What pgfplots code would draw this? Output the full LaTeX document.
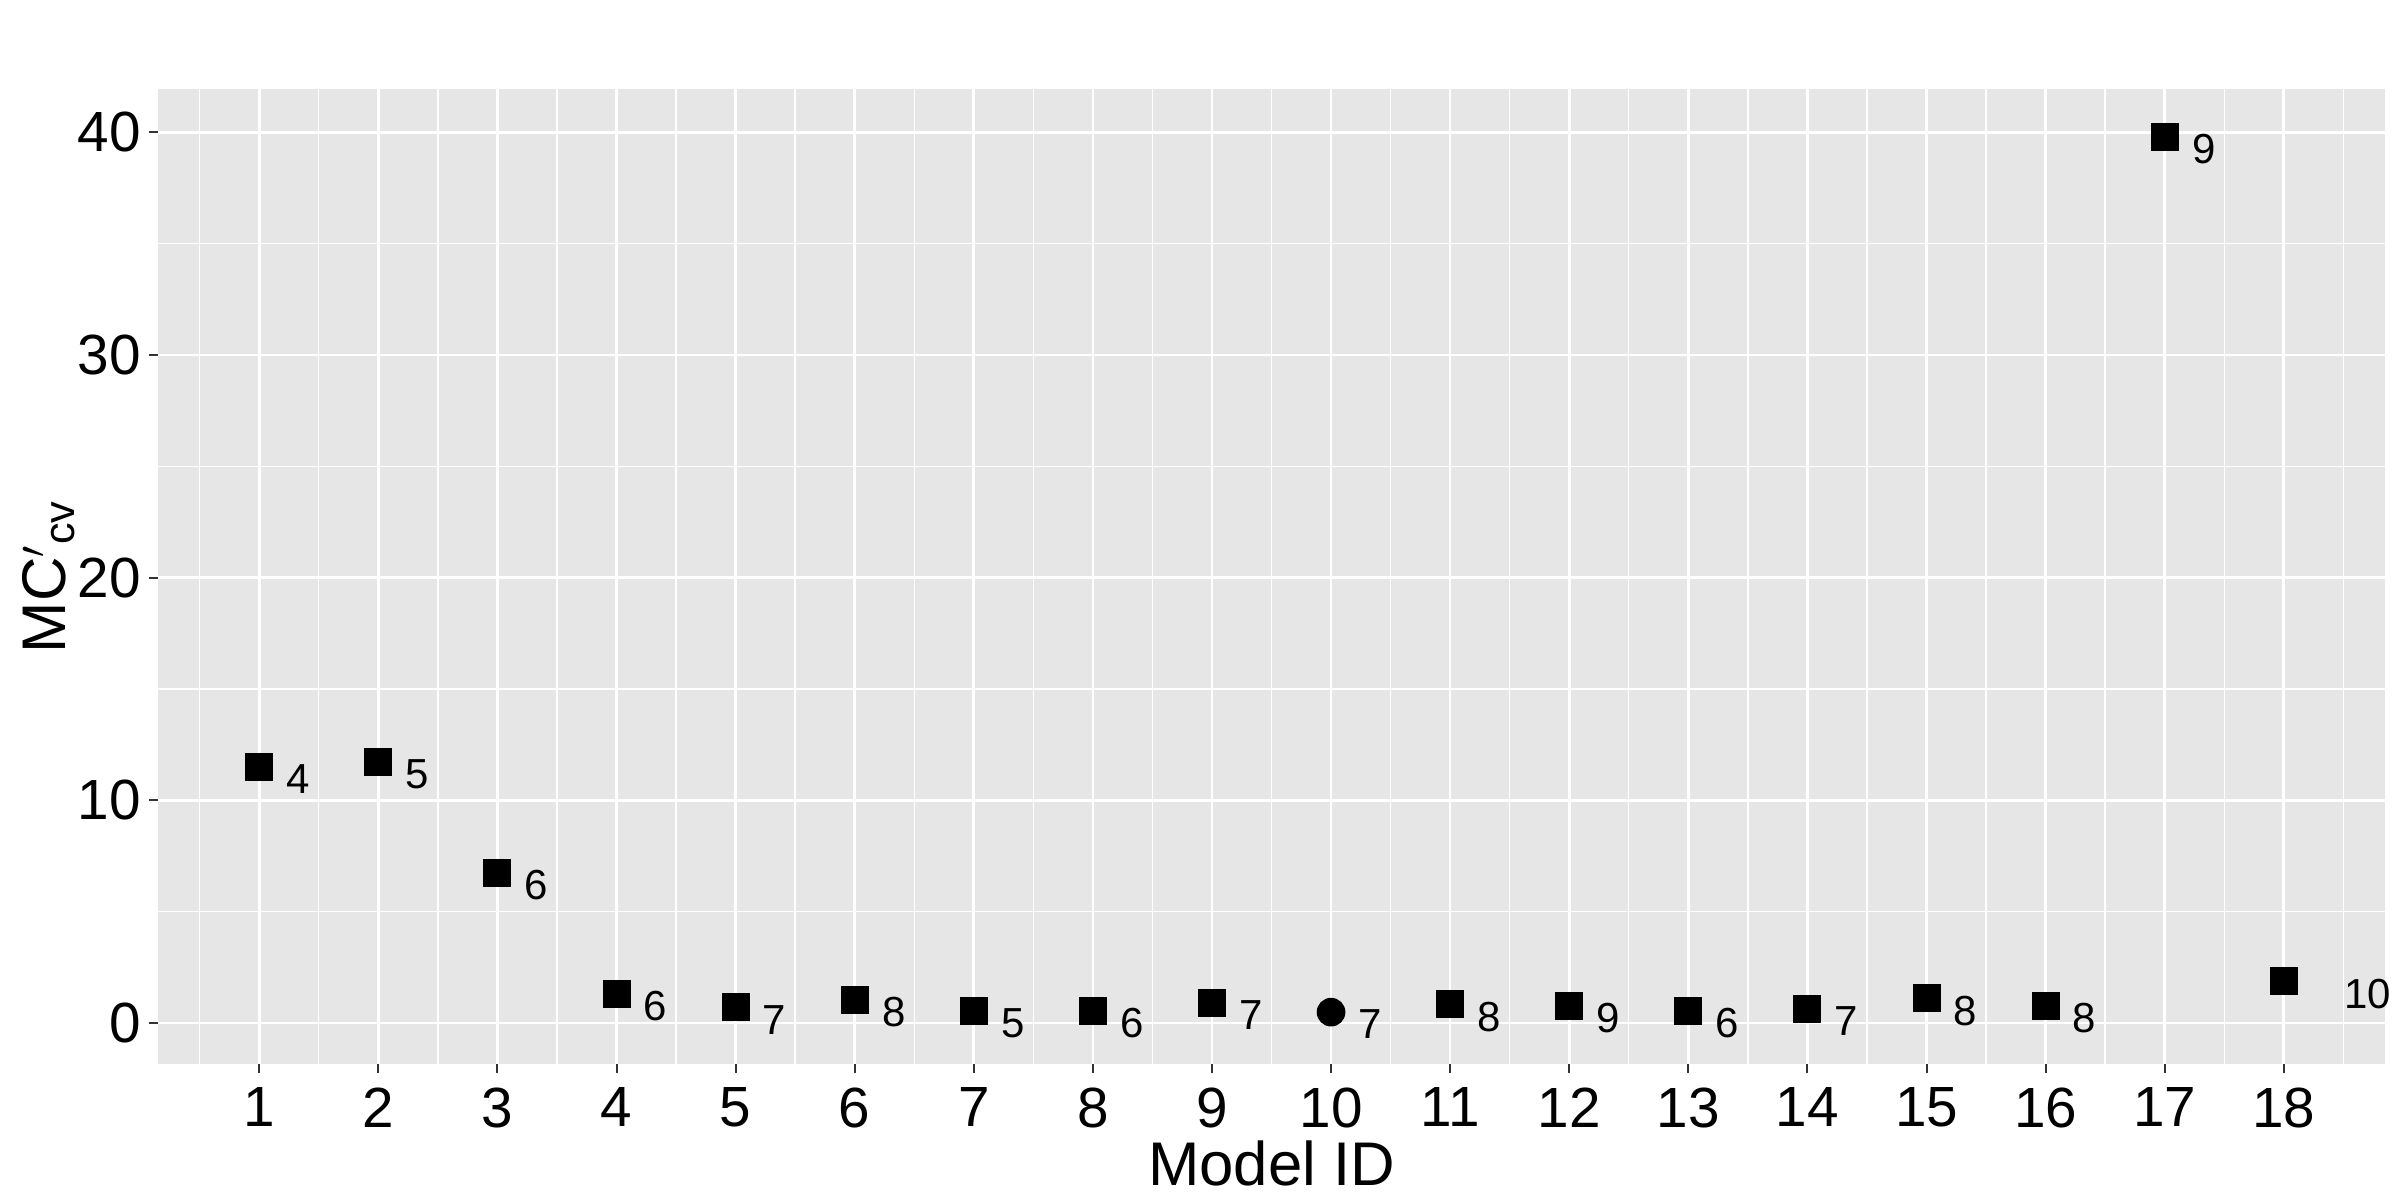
\documentclass[border=0pt]{standalone}
\usepackage{pgfplots}
\pgfplotsset{compat=1.18}
\usepackage{fontspec}
\setmainfont{Liberation Sans}
\definecolor{panelbg}{HTML}{E6E6E6}
\begin{document}
\begin{tikzpicture}
\path[use as bounding box] (-47.4pt,-40.8pt) rectangle (672.6pt,319.2pt);
\begin{axis}[
  at={(0,0)}, anchor=south west,
  scale only axis, width=668.1pt, height=292.5pt,
  xmin=0.15, xmax=18.85, ymin=-1.85, ymax=41.95,
  axis background/.style={fill=panelbg},
  axis line style={draw=none},
  xtick={1,...,18}, ytick={0,10,20,30,40},
  minor xtick={0.5,1.5,...,18.5}, minor ytick={-5,5,15,25,35},
  grid=both,
  major grid style={white, line width=0.8pt},
  minor grid style={white, line width=0.4pt},
  tick align=outside, major tick length=2.6pt, minor tick length=0pt,
  tick style={color=black!80, line width=0.6pt},
  xtick pos=bottom, ytick pos=left,
  /pgf/number format/assume math mode=true,
  ticklabel style={font=\fontsize{17}{19}\selectfont, text=black},
  xticklabel style={yshift=-1pt},
  yticklabel style={xshift=1pt},
  xlabel={Model ID},
  ylabel={MC$'$\textsubscript{cv}},
  label style={font=\fontsize{18.5}{21}\selectfont},
  xlabel style={yshift=3pt},
  ylabel style={yshift=-6pt},
  clip=false,
]
\addplot[only marks, mark=square*, mark size=4pt, black,
  nodes near coords, point meta=explicit symbolic,
  every node near coord/.append style={anchor=west, inner sep=0pt, xshift=8pt, yshift=-3.7pt, font=\fontsize{12.6}{14}\selectfont, text=black}]
  table[meta=l] {
x y l
1 11.5 4
2 11.7 5
3 6.75 6
4 1.3 6
5 0.69 7
6 1.03 8
7 0.55 5
8 0.55 6
9 0.9 7
11 0.83 8
12 0.76 9
13 0.55 6
14 0.62 7
15 1.1 8
16 0.76 8
17 39.8 9
};
\addplot[only marks, mark=square*, mark size=4pt, black,
  nodes near coords, point meta=explicit symbolic,
  every node near coord/.append style={anchor=west, inner sep=0pt, xshift=18pt, yshift=-3.7pt, font=\fontsize{12.6}{14}\selectfont, text=black}]
  table[meta=l] {
x y l
18 1.86 10
};
\addplot[only marks, mark=*, mark size=4.1pt, black,
  nodes near coords, point meta=explicit symbolic,
  every node near coord/.append style={anchor=west, inner sep=0pt, xshift=8pt, yshift=-3.7pt, font=\fontsize{12.6}{14}\selectfont, text=black}]
  table[meta=l] {
x y l
10 0.48 7
};
\end{axis}
\end{tikzpicture}
\end{document}
